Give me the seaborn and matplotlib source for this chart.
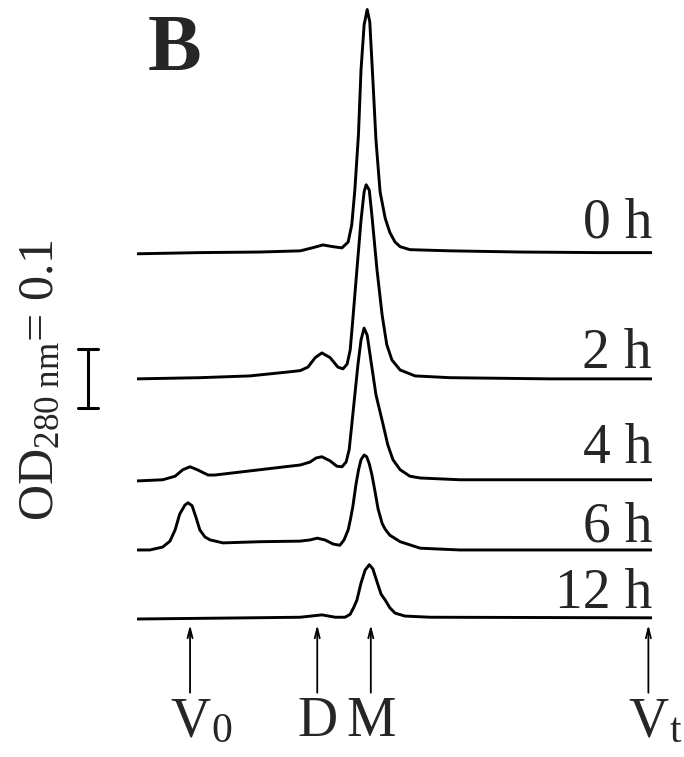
import numpy as np
import pandas as pd
import matplotlib
matplotlib.use("Agg")
import matplotlib.pyplot as plt
import seaborn as sns

# ---- data: elution position (0-100, arbitrary) and OD280 above each trace's baseline ----
times = ["0 h", "2 h", "4 h", "6 h", "12 h"]

x_0h = [0, 12.2, 23.9, 31.7, 34.0, 36.1, 38.1, 39.8, 41.0, 41.7, 42.3, 43.0, 43.5, 44.1,
        44.7, 45.2, 45.8, 46.4, 47.2, 48.2, 49.1, 50.1, 51.1, 53.0, 60.8, 74.4, 89.9, 100]
od_0h = [0, 0.002, 0.003, 0.005, 0.010, 0.015, 0.012, 0.010, 0.020, 0.049, 0.108, 0.202, 0.312, 0.388,
         0.414, 0.393, 0.295, 0.193, 0.105, 0.060, 0.036, 0.020, 0.012, 0.007, 0.005, 0.003, 0.002, 0.002]

x_2h = [0, 12.2, 21.9, 29.7, 31.7, 33.2, 34.6, 35.9, 37.5, 39.0, 40.0, 40.8, 41.4, 41.9, 42.7,
        43.5, 44.1, 44.5, 45.1, 45.6, 46.6, 47.6, 48.5, 49.5, 51.1, 54.0, 60.8, 80.2, 100]
od_2h = [0, 0.002, 0.005, 0.012, 0.014, 0.020, 0.036, 0.044, 0.036, 0.020, 0.017, 0.025, 0.049, 0.100, 0.185,
         0.269, 0.317, 0.329, 0.320, 0.278, 0.185, 0.108, 0.058, 0.032, 0.015, 0.005, 0.002, 0.0, 0.0]

x_4h = [0, 5.0, 7.4, 8.9, 10.3, 11.7, 13.8, 15.1, 21.9, 29.7, 31.7, 33.6, 34.8, 35.9, 37.5, 38.8,
        39.8, 40.6, 41.2, 41.7, 42.3, 42.9, 43.5, 44.1, 44.7, 45.4, 46.4, 47.8, 48.7, 49.7, 51.1,
        53.0, 55.0, 62.7, 100]
od_4h = [0, 0.002, 0.008, 0.019, 0.024, 0.019, 0.010, 0.010, 0.017, 0.025, 0.027, 0.032, 0.039, 0.041, 0.034, 0.025,
         0.024, 0.032, 0.053, 0.095, 0.146, 0.197, 0.239, 0.259, 0.247, 0.205, 0.146, 0.095, 0.061, 0.036, 0.019,
         0.008, 0.005, 0.002, 0.002]

x_6h = [0, 2.5, 5.0, 6.4, 7.4, 8.3, 9.3, 9.9, 10.7, 11.5, 12.2, 13.2, 14.2, 16.7, 23.9, 31.7, 33.6,
        35.0, 36.5, 38.1, 39.4, 40.2, 41.0, 41.4, 41.9, 42.5, 43.0, 43.5, 44.1, 44.6, 45.1, 45.6,
        46.2, 46.8, 47.6, 48.2, 49.1, 51.1, 55.0, 62.7, 100]
od_6h = [0, 0, 0.005, 0.015, 0.034, 0.061, 0.076, 0.080, 0.075, 0.054, 0.034, 0.022, 0.017, 0.012, 0.014, 0.015, 0.017,
         0.020, 0.017, 0.010, 0.008, 0.017, 0.034, 0.050, 0.073, 0.110, 0.135, 0.153, 0.161, 0.158, 0.146, 0.128,
         0.100, 0.070, 0.045, 0.035, 0.025, 0.014, 0.003, 0.0, 0.0]

x_12h = [0, 21.9, 31.7, 35.9, 38.5, 40.4, 41.4, 42.1, 42.7, 43.5, 44.3, 45.1, 45.8, 46.6, 47.4, 48.2,
         49.1, 50.1, 52.0, 56.9, 100]
od_12h = [0, 0.002, 0.003, 0.007, 0.003, 0.003, 0.008, 0.020, 0.032, 0.061, 0.083, 0.092, 0.085, 0.063, 0.042, 0.032,
          0.019, 0.010, 0.005, 0.003, 0.002]

markers = ["V", "D", "M", "V"]
marker_subs = ["0", "", "", "t"]
marker_pos = [10.3, 35.0, 45.4, 99.3]

scale_bar_od = 0.1

# ---- layout / styling ----
offsets = [0.619, 0.407, 0.234, 0.117, 0.0]
label_y = [0.646, 0.425, 0.264, 0.131, 0.019]

sns.set_style("white")
plt.rcParams["font.family"] = ["Liberation Serif", "DejaVu Serif"]
plt.rcParams["mathtext.fontset"] = "custom"
plt.rcParams["mathtext.rm"] = "Liberation Serif"
plt.rcParams["mathtext.it"] = "Liberation Serif:italic"
plt.rcParams["mathtext.bf"] = "Liberation Serif:bold"

xs = [x_0h, x_2h, x_4h, x_6h, x_12h]
ods = [od_0h, od_2h, od_4h, od_6h, od_12h]
frames = []
for t, x, od, off in zip(times, xs, ods, offsets):
    frames.append(pd.DataFrame({"x": x, "y": np.array(od) + off, "time": t}))
df = pd.concat(frames, ignore_index=True)

fig = plt.figure(figsize=(6.84, 7.57), dpi=100)
ax = fig.add_axes([137 / 684, 0, 515 / 684, 1])

sns.lineplot(data=df, x="x", y="y", hue="time", units="time", estimator=None,
             palette=["black"] * len(times), legend=False, sort=False, ax=ax,
             linewidth=2.1, solid_joinstyle="round", solid_capstyle="butt")

ax.set_xlim(0, 100)
ax.set_ylim((619 - 757) / 590, 619 / 590)
ax.axis("off")

# time labels
for t, ly in zip(times, label_y):
    ax.text(100, ly, t, ha="right", va="baseline", fontsize=40)

# marker arrows and labels
for m, sub, xp in zip(markers, marker_subs, marker_pos):
    ax.annotate("", xy=(xp, -0.010), xytext=(xp, -0.125),
                arrowprops=dict(arrowstyle="->,head_length=0.7,head_width=0.18",
                                lw=1.3, color="black", shrinkA=0, shrinkB=0),
                annotation_clip=False)
    ax.text(xp, -0.199, m, ha="center", va="baseline", fontsize=40, clip_on=False)
    if sub:
        ax.text(xp + 4.2, -0.208, sub, ha="left", va="baseline", fontsize=30, clip_on=False)

# scale bar (0.1 OD)
bx, bw = -9.5, 1.9
y0, y1 = 0.358, 0.358 + scale_bar_od
ax.plot([bx, bx], [y0, y1], color="black", lw=2.2, clip_on=False)
ax.plot([bx - bw, bx + bw], [y0, y0], color="black", lw=2.2, clip_on=False)
ax.plot([bx - bw, bx + bw], [y1, y1], color="black", lw=2.2, clip_on=False)

ax.text(-18.6, 0.405, r"OD$_{\mathrm{280\ nm}}$= 0.1", rotation=90, ha="center", va="center",
        fontsize=36, clip_on=False)

fig.text(148 / 684, 1 - 70 / 757, "B", fontsize=58, fontweight="bold", ha="left", va="baseline")

fig.savefig("out.png", dpi=100)
